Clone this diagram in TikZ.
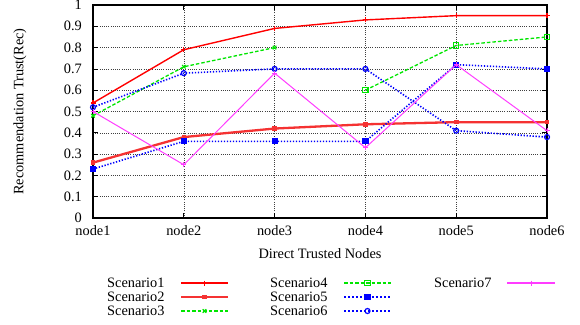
\documentclass[tikz,border=0pt]{standalone}
\usepackage{fontspec}
\setmainfont{Liberation Serif}
\usetikzlibrary{plotmarks}
\definecolor{pgreen}{RGB}{0,230,0}
\definecolor{pblue}{RGB}{0,0,255}
\definecolor{pred}{RGB}{255,0,0}
\definecolor{pred2}{RGB}{245,50,50}
\definecolor{pmag}{RGB}{255,0,255}
\definecolor{pmagl}{RGB}{255,60,255}
\begin{document}
\begin{tikzpicture}[x=1bp,y=-1bp,
  every node/.style={font=\fontsize{14.4}{16}\selectfont, inner sep=0pt},
  frame/.style={line width=1.1bp, black},
  tickmark/.style={line width=0.8bp, black},
  gridline/.style={line width=0.5bp, black!75, dash pattern=on 1bp off 1.2bp},
  sone/.style={pred, line width=1.4bp, mark=+, mark size=2.5bp, mark options={solid,line width=1.1bp}},
  stwo/.style={pred2, line width=2.3bp, mark=square*, mark size=1.8bp, mark options={solid,line width=1bp}},
  sthree/.style={pgreen, line width=1.3bp, dash pattern=on 3.5bp off 2bp, mark=x, mark size=2.5bp, mark options={solid,line width=1.1bp}},
  sfour/.style={pgreen, line width=1.3bp, dash pattern=on 3.5bp off 2bp, mark=square, mark size=2.6bp, mark options={solid,line width=1.1bp}},
  sfive/.style={pblue, line width=1.6bp, dash pattern=on 1.3bp off 1.7bp, mark=square*, mark size=2.6bp, mark options={solid,line width=1bp}},
  ssix/.style={pblue, line width=1.6bp, dash pattern=on 1.3bp off 1.7bp, mark=o, mark size=2.5bp, mark options={solid,line width=1.2bp}},
  sseven/.style={pmagl, line width=1bp, mark=+, mark size=2.5bp, mark options={solid,line width=1bp}},
  legmark/.style={mark indices={2}, line width=2bp},
  legdots/.style={dash pattern=on 2bp off 2bp},
]
\useasboundingbox (0,0) rectangle (580,324);
\fill[white] (0,0) rectangle (580,324);

% grid, ticks and frame
\begin{scope}[shift={(93,218)}, x=90.8bp, y=21.3bp]
  \foreach \k in {1,...,9} {
    \draw[gridline] (0,\k) -- (5,\k);
  }
  \foreach \i in {1,...,4} {
    \draw[gridline] (\i,0) -- (\i,10);
  }
  \foreach \k in {1,...,9} {
    \draw[tickmark] (0,\k) -- ++(5bp,0);
    \draw[tickmark] (5,\k) -- ++(-5bp,0);
  }
  \foreach \i in {1,...,4} {
    \draw[tickmark] (\i,0) -- ++(0,5bp);
    \draw[tickmark] (\i,10) -- ++(0,-5bp);
  }
  \draw[frame] (0,0) rectangle (5,10);
\end{scope}

% data
\begin{scope}[shift={(93,218)}, x=90.8bp, y=213bp]
  \draw[sone] plot coordinates {(0,0.54) (1,0.79) (2,0.89) (3,0.93) (4,0.95) (5,0.95)};
  \draw[stwo] plot coordinates {(0,0.26) (1,0.38) (2,0.42) (3,0.44) (4,0.45) (5,0.45)};
  \draw[sthree] plot coordinates {(0,0.48) (1,0.71) (2,0.80)};
  \draw[sfour] plot coordinates {(3,0.60) (4,0.81) (5,0.85)};
  \draw[sfive] plot coordinates {(0,0.23) (1,0.36) (2,0.36) (3,0.36) (4,0.72) (5,0.70)};
  \draw[ssix] plot coordinates {(0,0.52) (1,0.68) (2,0.70) (3,0.70) (4,0.41) (5,0.38)};
  \draw[sseven] plot coordinates {(0,0.50) (1,0.25) (2,0.68) (3,0.33) (4,0.72) (5,0.41)};
\end{scope}

% tick labels
\foreach \k/\t in {0/0,1/0.1,2/0.2,3/0.3,4/0.4,5/0.5,6/0.6,7/0.7,8/0.8,9/0.9,10/1} {
  \node[anchor=east] (ytl\k) at (82,218-21.3*\k) {\t};
}
\foreach \i in {1,...,6} {
  \node (xtl\i) at (93+90.8*\i-90.8,231) {node\i};
}
\node[rotate=90] (ylab) at (20,111.5) {Recommendation Trust(Rec)};
\node (xlab) at (320,254) {Direct Trusted Nodes};

% legend
\node[anchor=west] (l1) at (107,283) {Scenario1};
\node[anchor=west] (l2) at (107,297) {Scenario2};
\node[anchor=west] (l3) at (107,311) {Scenario3};
\node[anchor=west] (l4) at (270,283) {Scenario4};
\node[anchor=west] (l5) at (270,297) {Scenario5};
\node[anchor=west] (l6) at (270,311) {Scenario6};
\node[anchor=west] (l7) at (434,283) {Scenario7};

\draw[sone,legmark] plot coordinates {(181,283) (204.5,283) (228,283)};
\draw[stwo,legmark,line width=2.6bp] plot coordinates {(181,297) (204.5,297) (228,297)};
\draw[sthree,legmark] plot coordinates {(181,311) (204.5,311) (228,311)};
\draw[sfour,legmark] plot coordinates {(344,283) (367.5,283) (391,283)};
\draw[sfive,legmark,legdots] plot coordinates {(344,297) (367.5,297) (391,297)};
\draw[ssix,legmark,legdots] plot coordinates {(344,311) (367.5,311) (391,311)};
\draw[sseven,legmark,line width=1.6bp] plot coordinates {(507,283) (531,283) (555,283)};
\end{tikzpicture}
\end{document}
